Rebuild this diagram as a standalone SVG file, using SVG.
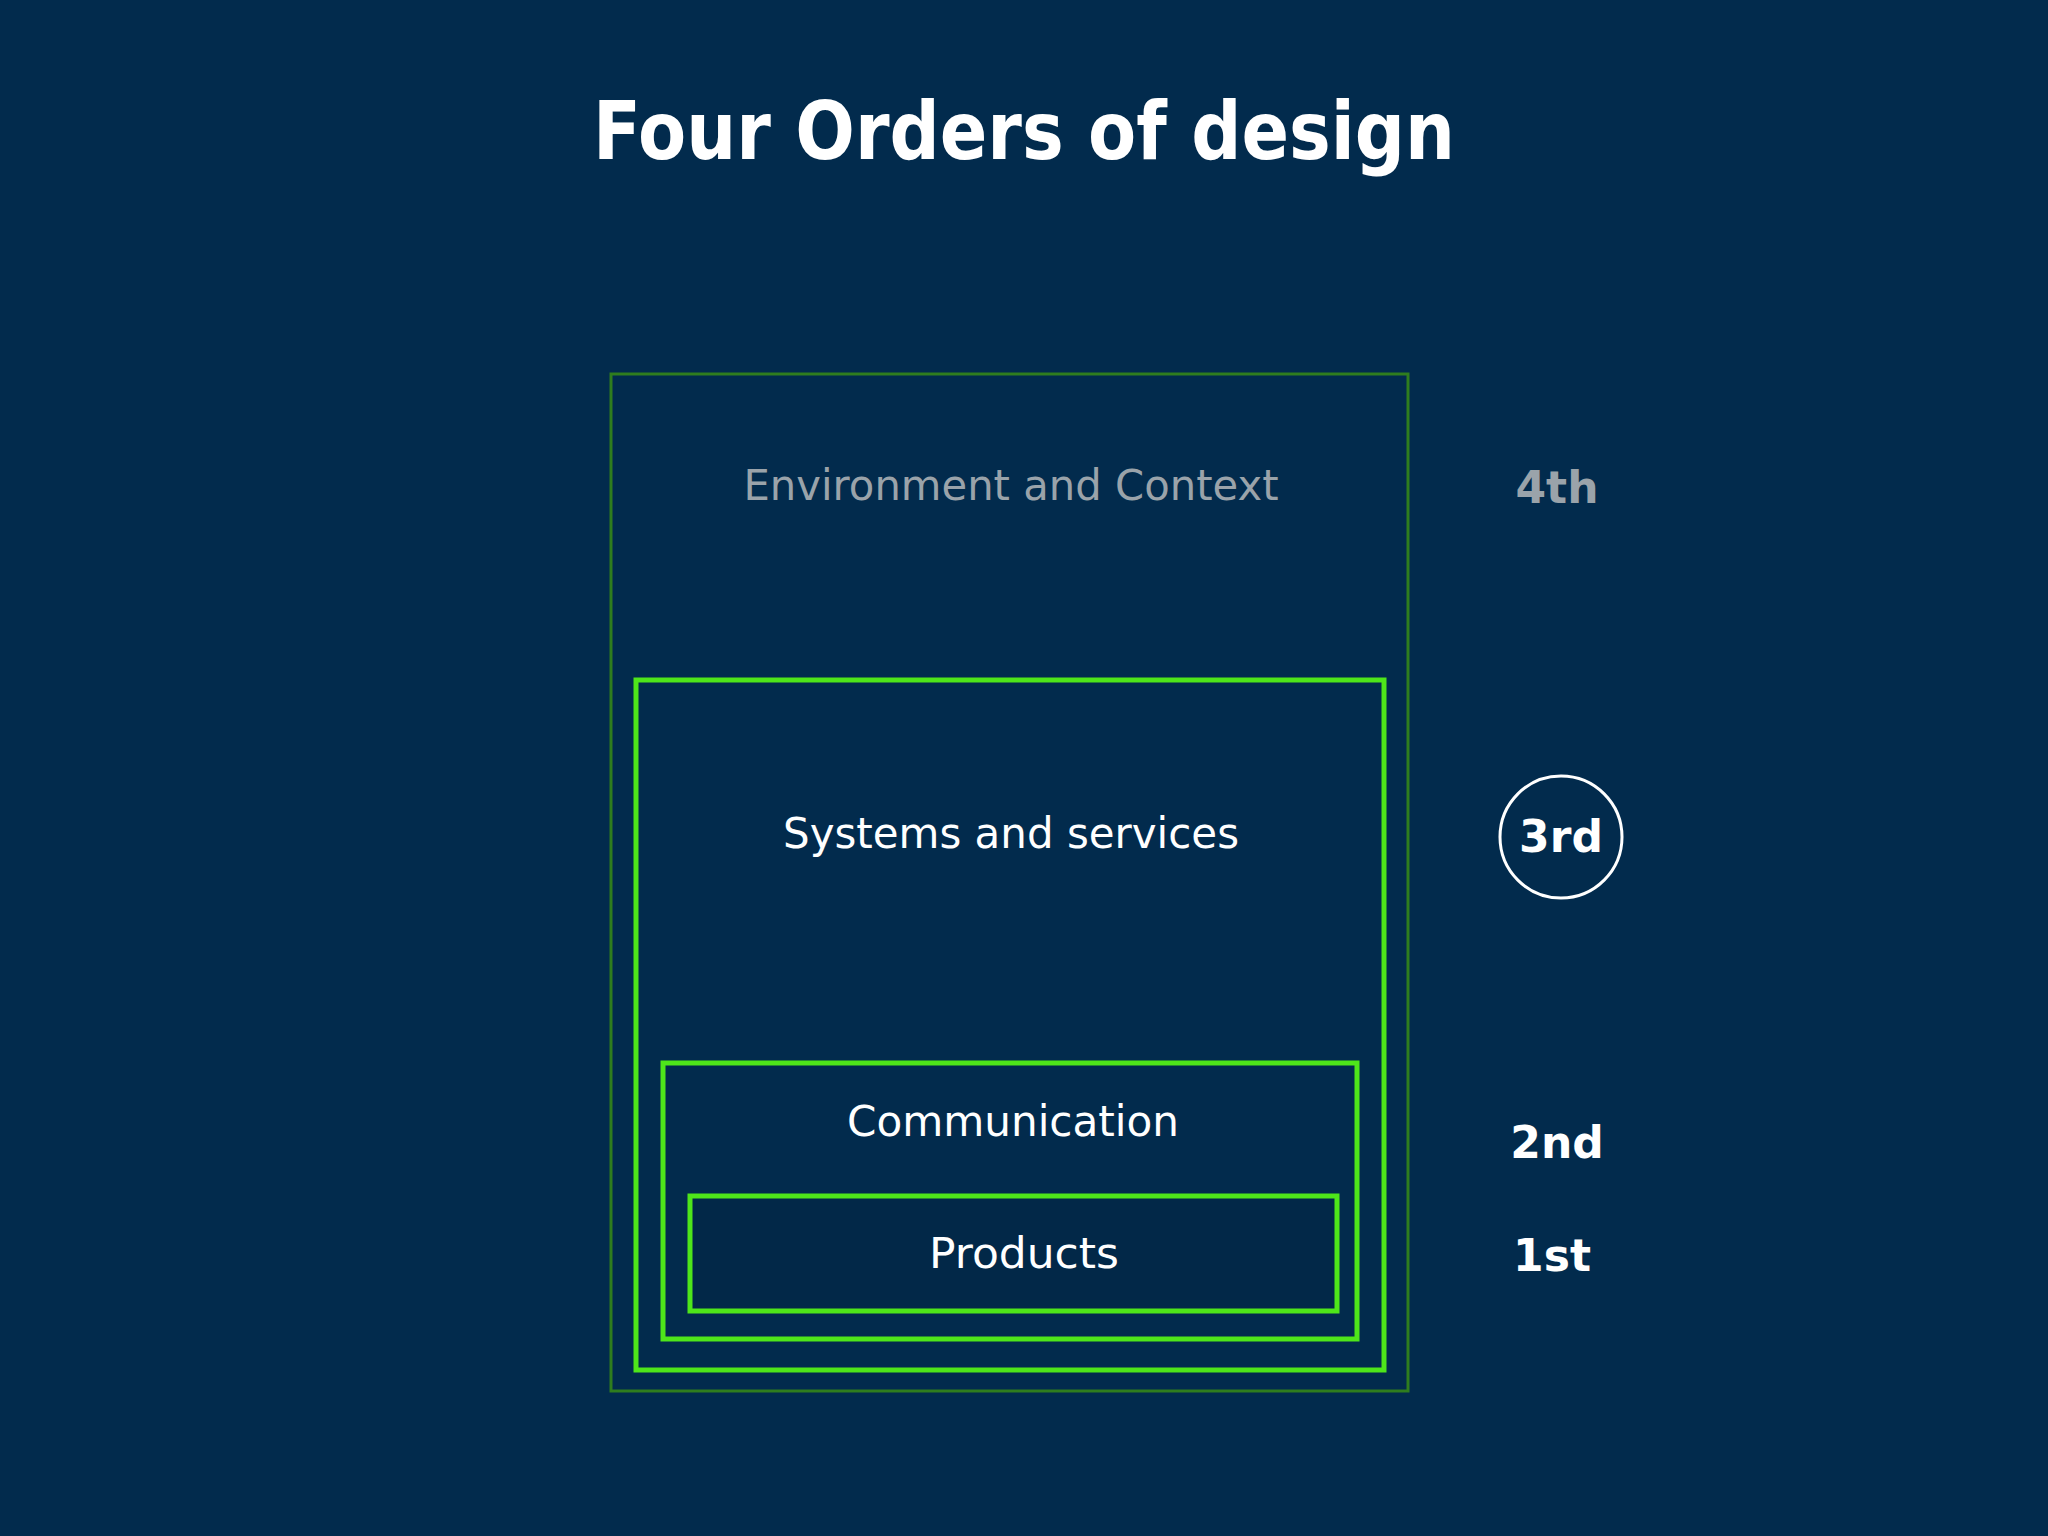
<svg xmlns="http://www.w3.org/2000/svg" width="2048" height="1536" viewBox="0 0 2048 1536">
<style>
.t{font-family:"DejaVu Sans","Liberation Sans",sans-serif;text-anchor:middle}
.lbl{font-size:42px;fill:#ffffff}
.ord{font-size:44px;font-weight:bold;fill:#ffffff}
.box{fill:none;stroke:#4ee61a;stroke-width:5}
</style>
<rect width="2048" height="1536" fill="#022b4d"/>
<text class="t" x="1024" y="159" font-size="80" font-weight="bold" fill="#ffffff" textLength="862" lengthAdjust="spacingAndGlyphs">Four Orders of design</text>
<g id="env">
<rect x="611" y="374" width="797" height="1017" fill="none" stroke="#2f7d1e" stroke-width="3"/>
<text class="t lbl" x="1011" y="500" fill="#9aa3aa" style="fill:#9aa3aa" textLength="535" lengthAdjust="spacingAndGlyphs">Environment and Context</text>
</g>
<g id="systems">
<rect class="box" x="636" y="680" width="748" height="690"/>
<text class="t lbl" x="1011" y="848" textLength="456" lengthAdjust="spacingAndGlyphs">Systems and services</text>
</g>
<g id="communication">
<rect class="box" x="663" y="1063" width="694" height="276"/>
<text class="t lbl" x="1013" y="1136" textLength="332" lengthAdjust="spacingAndGlyphs">Communication</text>
</g>
<g id="products">
<rect class="box" x="690" y="1196" width="647" height="115" fill="#022848" style="fill:#022848"/>
<text class="t lbl" x="1024" y="1268" textLength="190" lengthAdjust="spacingAndGlyphs">Products</text>
</g>
<g id="o4"><text class="t ord" x="1557" y="503" style="fill:#9aa3aa">4th</text></g>
<g id="o3"><circle cx="1561" cy="837" r="61" fill="none" stroke="#ffffff" stroke-width="3"/><text class="t ord" x="1561" y="852">3rd</text></g>
<g id="o2"><text class="t ord" x="1557" y="1158">2nd</text></g>
<g id="o1"><text class="t ord" x="1552" y="1271">1st</text></g>
<g id="connectors"></g>
</svg>
